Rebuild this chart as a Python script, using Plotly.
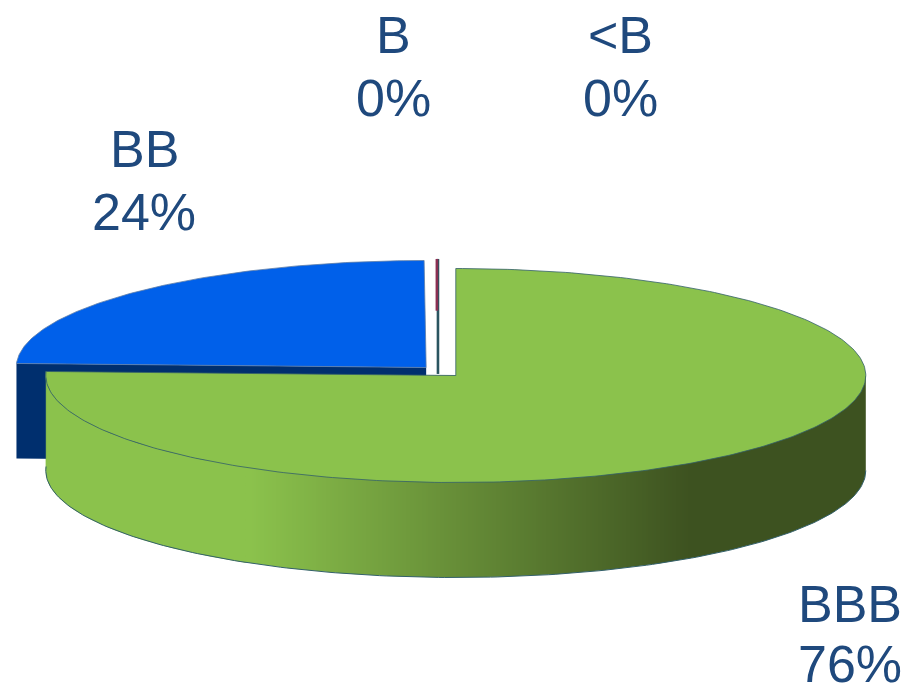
import numpy as np
import plotly.graph_objects as go

# --- data ---
categories = ["BBB", "BB", "B", "<B"]
shares = [75.6, 24.32, 0.04, 0.04]
percent_labels = ["76%", "24%", "0%", "0%"]

# --- styles ---
top_colors = ["#8BC24C", "#0060EA", "#8A2F52", "#2A5560"]
side_colors = ["#3D5220", "#002F6E", "#4A1A30", "#1C3A3A"]
edge_colors = ["#33606A", "#5F7FA8", "#6A3350", "#2F5A5E"]
text_color = "#1F497D"

# --- projection of the pie onto the page (pixels) ---
CX, CY = 441.0, 371.5
RX, RY = 410.0, 107.0
DEPTH = 95.0
EXPLODE = 0.052
THIN_SHIFT = -2.5
THIN_RED_PART = 0.45

fig = go.Figure()


def point(cx, cy, deg):
    t = np.radians(deg)
    return cx + RX * np.sin(t), cy - RY * np.cos(t)


def poly(x, y, fill, line=None, width=0.0):
    fig.add_trace(go.Scatter(
        x=x, y=y, mode="lines", fill="toself", fillcolor=fill,
        line=dict(color=line or fill, width=width),
        hoverinfo="skip", showlegend=False))


edges = np.concatenate([[0], np.cumsum(shares)]) / sum(shares) * 360
slices = []
for i in range(len(shares)):
    a0, a1 = edges[i], edges[i + 1]
    mid = np.radians((a0 + a1) / 2)
    cx = CX + EXPLODE * RX * np.sin(mid)
    cy = CY - EXPLODE * RY * np.cos(mid)
    slices.append((a0, a1, cx, cy))

# BBB wall gradient (a heatmap sits under all scatter traces; a white mask trims it)
a0, a1, gx, gy = slices[0]
LIGHT_X, DARK_X = 250.0, 690.0
xs = np.arange(gx - RX + 1, gx + RX, 2.0)
ys = np.arange(gy + 1, gy + RY + DEPTH + 2, 2.0)
z = np.clip((xs - LIGHT_X) / (DARK_X - LIGHT_X), 0, 1)
fig.add_trace(go.Heatmap(
    x=xs, y=ys, z=np.tile(z, (len(ys), 1)), zmin=0, zmax=1, showscale=False, hoverinfo="skip",
    colorscale=[[0, top_colors[0]], [1, side_colors[0]]]))
t = np.linspace(90, 270, 240)
ax, ay = point(gx, gy, t)
poly(np.r_[ax[0] + 3, ax, ax[-1] - 3, ax[-1] - 3, ax[0] + 3],
     np.r_[ay[0] + DEPTH, ay + DEPTH, ay[-1] + DEPTH, gy + RY + DEPTH + 10, gy + RY + DEPTH + 10],
     "white")

# thin slices: <B runs the whole radius, B shows on its outer part
for i, part in ((3, 1.0), (2, THIN_RED_PART)):
    a0, a1, cx, cy = slices[i]
    ax, ay = point(cx, cy, (a0 + a1) / 2)
    fig.add_trace(go.Scatter(
        x=[ax + THIN_SHIFT, ax + THIN_SHIFT],
        y=[ay, ay + part * (cy + 8 - ay)], mode="lines",
        line=dict(color=top_colors[i], width=2.6),
        hoverinfo="skip", showlegend=False))

# BB: cut face then top
a0, a1, cx, cy = slices[1]
ex, ey = point(cx, cy, a0)
poly([cx, ex, ex, cx, cx], [cy, ey, ey + DEPTH, cy + DEPTH, cy], side_colors[1])
t = np.linspace(a0, a1, 120)
ax, ay = point(cx, cy, t)
poly(np.r_[cx, ax, cx], np.r_[cy, ay, cy], top_colors[1], edge_colors[1], 0.8)

# BBB: re-show the wall over BB's cut face where it overlaps, then rim and top
a0, a1, cx, cy = slices[0]
t = np.linspace(90, a1, 200)
ax, ay = point(cx, cy, t)
left_part = ax < LIGHT_X
poly(np.r_[ax[left_part], ax[left_part][::-1]],
     np.r_[ay[left_part], ay[left_part][::-1] + DEPTH], top_colors[0], top_colors[0], 0.5)
fig.add_trace(go.Scatter(x=ax, y=ay + DEPTH, mode="lines",
                         line=dict(color=edge_colors[0], width=1),
                         hoverinfo="skip", showlegend=False))
t = np.linspace(a0, a1, 300)
ax, ay = point(cx, cy, t)
poly(np.r_[cx, ax, cx], np.r_[cy, ay, cy], top_colors[0], edge_colors[0], 0.8)

# --- labels: (x centre, y of name line, y of percent line) in pixels ---
label_pos = [(850, 604, 664), (144, 149, 212), (393, 35, 98), (620, 35, 98)]
for name, pct, (lx, ly1, ly2) in zip(categories, percent_labels, label_pos):
    for txt, ly in ((name, ly1), (pct, ly2)):
        fig.add_annotation(x=lx, y=ly, text=txt.replace("<", "&lt;"), showarrow=False,
                           xanchor="center", yanchor="middle",
                           font=dict(family="Liberation Sans", size=52, color=text_color))

fig.update_layout(
    width=904, height=687, margin=dict(l=0, r=0, t=0, b=0),
    paper_bgcolor="white", plot_bgcolor="white", showlegend=False,
    xaxis=dict(range=[0, 904], visible=False, fixedrange=True),
    yaxis=dict(range=[687, 0], visible=False, fixedrange=True),
)
fig.write_html("out.html", config={"displayModeBar": False},
               post_script="document.body.style.margin='0';document.documentElement.style.overflow='hidden';")
